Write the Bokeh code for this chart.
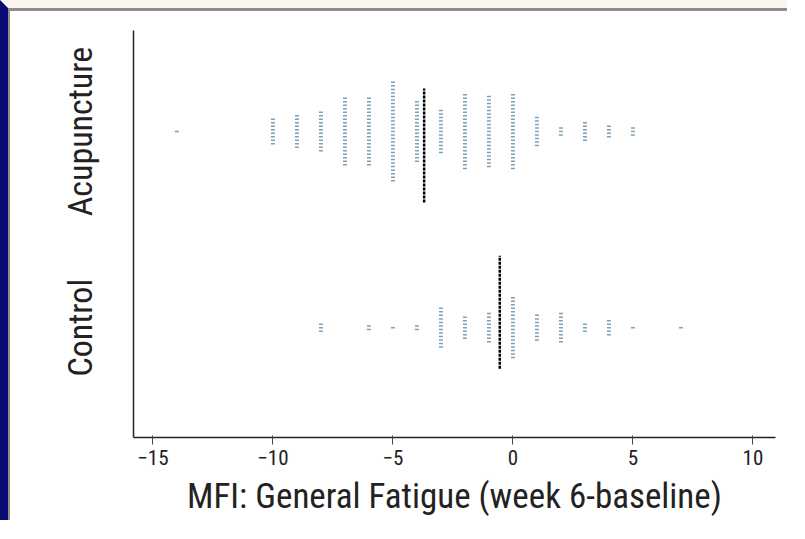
from bokeh.plotting import figure
from bokeh.models import ColumnDataSource, FixedTicker, Range1d
from bokeh.embed import file_html
from bokeh.resources import INLINE

# ---- data ----
groups = ["Control", "Acupuncture"]
group_pos = [1, 2]
acu_values = [-14, -10, -9, -8, -7, -6, -5, -4, -3, -2, -1, 0, 1, 2, 3, 4, 5]
acu_counts = [1, 8, 10, 12, 20, 20, 29, 18, 13, 22, 21, 22, 9, 3, 6, 4, 3]
ctl_values = [-8, -6, -5, -4, -3, -2, -1, 0, 1, 2, 3, 4, 5, 7]
ctl_counts = [3, 2, 1, 2, 12, 7, 9, 18, 8, 9, 3, 5, 1, 1]
medians = {"Acupuncture": -3.7, "Control": -0.55}
median_extent = {"Acupuncture": (1.638, 2.219), "Control": (0.791, 1.367)}
x_ticks = [-15, -10, -5, 0, 5, 10]

FONT = "'Liberation Sans Narrow', 'Roboto Condensed', 'Arial Narrow', sans-serif"
pitch = 0.0179  # vertical spacing of stacked dots (y units)

xs, ys = [], []
for center, vals, cnts in [(2, acu_values, acu_counts), (1, ctl_values, ctl_counts)]:
    for v, n in zip(vals, cnts):
        for i in range(n):
            xs.append(v)
            ys.append(center + (i - (n - 1) / 2) * pitch)
src = ColumnDataSource(dict(x=xs, y=ys))

p = figure(width=787, height=520, output_backend="svg", toolbar_location=None,
           x_range=Range1d(-15.81, 10.94), y_range=Range1d(0.44, 2.515),
           min_border_left=123, min_border_right=22, min_border_top=19,
           min_border_bottom=94)
p.styles = {
    "border-left": "8px solid #0b0b78",
    "border-top": "8px solid #f8f6ee",
    "padding-top": "3px",
    "padding-left": "2px",
    "background": ("linear-gradient(#8e8e86, #8e8e86) left top / 100% 3px no-repeat, "
                   "linear-gradient(#8e8e86, #8e8e86) left top / 2px 100% no-repeat, "
                   "#ffffff"),
}
p.background_fill_color = "white"
p.border_fill_color = "white"
p.outline_line_color = None
p.grid.visible = False

p.rect(x="x", y="y", width=4, height=1.5, width_units="screen", height_units="screen",
       source=src, fill_color="#6690ab", line_color=None, fill_alpha=0.85)

for g in groups:
    y0, y1 = median_extent[g]
    m = medians[g]
    p.line(x=[m, m], y=[y0, y1], line_color="black", line_width=2.5, line_dash="3 1")

# x axis
p.xaxis.ticker = FixedTicker(ticks=x_ticks)
p.xaxis.axis_label = "MFI: General Fatigue (week 6-baseline)"
p.xaxis.axis_label_text_font = FONT
p.xaxis.axis_label_text_font_style = "normal"
p.xaxis.axis_label_text_font_size = "35px"
p.xaxis.axis_label_text_color = "#222222"
p.xaxis.axis_label_standoff = 8
p.xaxis.major_label_text_font = FONT
p.xaxis.major_label_text_font_size = "21px"
p.xaxis.major_label_text_color = "#222222"
p.xaxis.major_label_standoff = 5
p.xaxis.axis_line_color = "#222222"
p.xaxis.axis_line_width = 1.5
p.xaxis.major_tick_line_color = "#444444"
p.xaxis.major_tick_out = 7
p.xaxis.major_tick_in = 2
p.xaxis.minor_tick_line_color = None

# y axis: line plus group names, rotated
p.yaxis.ticker = FixedTicker(ticks=group_pos)
p.yaxis.major_label_overrides = {1: groups[0], 2: groups[1]}
p.yaxis.major_label_orientation = "parallel"
p.yaxis.major_label_text_font = FONT
p.yaxis.major_label_text_font_size = "34px"
p.yaxis.major_label_text_color = "#222222"
p.yaxis.major_label_standoff = 27
p.yaxis.major_tick_line_color = None
p.yaxis.minor_tick_line_color = None
p.yaxis.axis_line_color = "#222222"
p.yaxis.axis_line_width = 1.5

open("out.html", "w").write(file_html(p, INLINE))
